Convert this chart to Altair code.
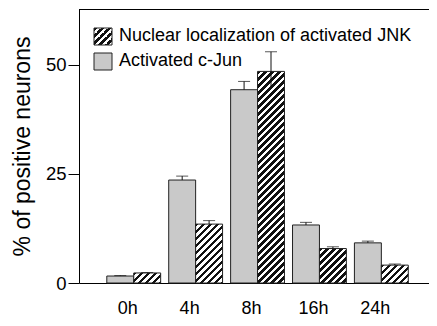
import altair as alt

# ---- data ----
times = ["0h", "4h", "8h", "16h", "24h"]
series = ["Nuclear localization of activated JNK", "Activated c-Jun"]

jnk = [2.3, 13.5, 48.5, 7.9, 4.1]
jnk_err_up = [0.1, 0.8, 4.5, 0.4, 0.25]
jnk_err_low = [0.0, 0.0, 3.5, 0.0, 0.0]

jun = [1.6, 23.6, 44.3, 13.3, 9.2]
jun_err_up = [0.1, 0.9, 1.9, 0.6, 0.4]
jun_err_low = [0.0, 0.0, 0.0, 0.0, 0.0]

y_ticks = [0, 25, 50]

# ---- layout / style ----
W, H = 350, 274
YMAX = 62.8
P_IN, P_OUT, ALIGN = 0.13, 0.392, 0.573
GRAY = "#c9c9c9"
INK = "#111111"
FONT = "Liberation Sans"

step = W / (len(times) - P_IN + 2 * P_OUT)
bar_w = step * (1 - P_IN) / 2


def hatch(w, h, period=7.0, frac=0.45):
    """Diagonal '/' stripes as a linear gradient in the bar's bounding box."""
    s = (w + h) / (w * w + h * h)
    total = w + h
    n = int(total / period) + 2
    d = period / total
    stops = []
    for k in range(n):
        a = k * d
        b = a + frac * d
        c = (k + 1) * d
        stops += [
            {"offset": min(a, 1.0), "color": INK},
            {"offset": min(b, 1.0), "color": INK},
            {"offset": min(b, 1.0), "color": "#ffffff"},
            {"offset": min(c, 1.0), "color": "#ffffff"},
        ]
    return {"gradient": "linear", "x1": 0, "y1": 0, "x2": w * s, "y2": h * s, "stops": stops}


records = []
for i, t in enumerate(times):
    records.append({"time": t, "series": series[1], "value": jun[i],
                    "hi": jun[i] + jun_err_up[i], "lo": jun[i] - jun_err_low[i],
                    "fill": GRAY})
    hpx = jnk[i] / YMAX * H
    records.append({"time": t, "series": series[0], "value": jnk[i],
                    "hi": jnk[i] + jnk_err_up[i], "lo": jnk[i] - jnk_err_low[i],
                    "fill": hatch(bar_w, hpx)})

data = alt.Data(values=records)

x_enc = alt.X("time:N", sort=times,
              scale=alt.Scale(paddingInner=P_IN, paddingOuter=P_OUT, align=ALIGN),
              axis=alt.Axis(title=None, labelAngle=0, ticks=False, tickSize=0,
                            labelPadding=16, labelFontSize=18, labelOffset=-6,
                            labelColor="black", domainColor="black"))
xo_enc = alt.XOffset("series:N", sort=[series[1], series[0]],
                     scale=alt.Scale(paddingInner=0, paddingOuter=0))
y_scale = alt.Scale(domain=[0, YMAX], nice=False)

base = alt.Chart(data)

bars = base.mark_bar(stroke="#222222", strokeWidth=1).encode(
    x=x_enc,
    xOffset=xo_enc,
    y=alt.Y("value:Q", scale=y_scale,
            axis=alt.Axis(values=y_ticks, title="% of positive neurons",
                          titleFontSize=23, titleFontWeight="normal", titleColor="black",
                          titlePadding=10.5, tickSize=11, labelPadding=2,
                          labelFontSize=18.5, labelColor="black",
                          tickColor="black", domainColor="black", grid=False)),
    fill=alt.Fill("fill:N", scale=None),
)

err = base.mark_rule(color=INK, strokeWidth=1).encode(
    x=alt.X("time:N", sort=times), xOffset=xo_enc,
    y=alt.Y("lo:Q", scale=y_scale), y2="hi:Q",
)

caps = base.mark_tick(color=INK, size=12, thickness=1).encode(
    x=alt.X("time:N", sort=times), xOffset=xo_enc,
    y=alt.Y("hi:Q", scale=y_scale),
)

one = alt.Data(values=[{"a": 1}])
top_line = alt.Chart(one).mark_rule(color="black", strokeWidth=1).encode(
    x=alt.value(0), x2=alt.value(W), y=alt.value(0.5))

sq_hatch = alt.Chart(one).mark_rect(
    fill=alt.Gradient(**hatch(18, 17, period=7.0, frac=0.45)),
    stroke="#222222", strokeWidth=1).encode(
    x=alt.value(15), x2=alt.value(33), y=alt.value(19), y2=alt.value(36))
sq_gray = alt.Chart(one).mark_rect(fill=GRAY, stroke="#222222", strokeWidth=1).encode(
    x=alt.value(15), x2=alt.value(33), y=alt.value(44), y2=alt.value(61))

lab1 = alt.Chart(alt.Data(values=[{"s": series[0]}])).mark_text(
    align="left", baseline="middle", fontSize=18, color="black", font=FONT).encode(
    text="s:N", x=alt.value(40), y=alt.value(27))
lab2 = alt.Chart(alt.Data(values=[{"s": series[1]}])).mark_text(
    align="left", baseline="middle", fontSize=18, color="black", font=FONT).encode(
    text="s:N", x=alt.value(40), y=alt.value(52))

chart = alt.layer(bars, err, caps, top_line, sq_hatch, sq_gray, lab1, lab2).properties(
    width=W, height=H,
    autosize=alt.AutoSizeParams(type="none"),
    padding={"left": 71, "top": 1, "right": 0, "bottom": 35},
).configure(font=FONT).configure_view(stroke="transparent")

chart.save("out.html", embed_options={"renderer": "svg", "actions": False})
